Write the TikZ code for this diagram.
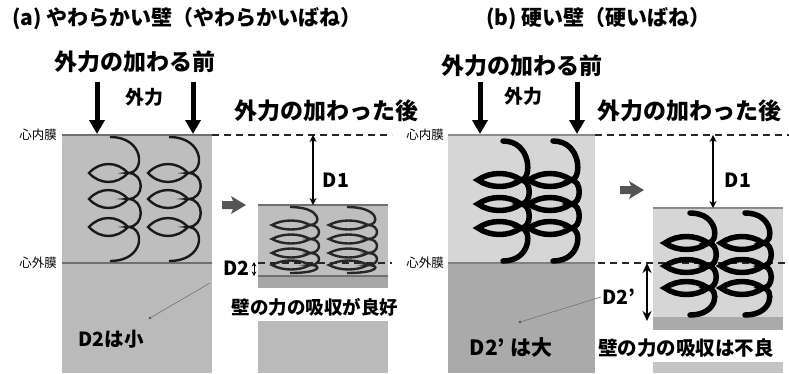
\documentclass[tikz,border=0pt]{standalone}
\usepackage{fontspec}
\setmainfont{Noto Sans CJK JP}
\usetikzlibrary{arrows.meta}

\definecolor{wallsoft}{HTML}{BEBEBE}
\definecolor{wallsoftlow}{HTML}{BABABA}
\definecolor{wallhard}{HTML}{D6D6D6}
\definecolor{wallhardlow}{HTML}{AAAAAA}
\definecolor{membrane}{HTML}{707070}
\definecolor{pusharrow}{HTML}{555555}

% one coil spring: lens loops on the left, bulging arcs on the right
% #1 style, #2 end x, #3 lens left x, #4 lens right x, #5 arc control x,
% #6 top y, #7 bottom y, #8 lens centres, #9 lens half height
\newcommand{\coilspring}[9]{%
  \foreach \yy in {#8} {\xdef\lastlens{\yy}}
  \foreach \yy in {#8} {
    \draw[#1] (#3,\yy)
      .. controls ({#3+0.28*(#4-#3)},{\yy-1.33*#9}) and ({#4-0.28*(#4-#3)},{\yy-1.33*#9}) .. (#4,\yy)
      .. controls ({#4-0.28*(#4-#3)},{\yy+1.33*#9}) and ({#3+0.28*(#4-#3)},{\yy+1.33*#9}) .. cycle;
  }
  \draw[#1] (#2,#6)
    \foreach \yy [remember=\yy as \py (initially #6)] in {#8} {
      .. controls (#5,\py) and (#5,\yy) .. (#4,\yy)
    }
    .. controls (#5,\lastlens) and (#5,#7) .. (#2,#7);
}

\begin{document}
\begin{tikzpicture}[x=1pt,y=-1pt,
  title/.style={font=\bfseries\fontsize{21}{24}\selectfont, inner sep=0pt, anchor=west},
  heading/.style={font=\bfseries\fontsize{23}{26}\selectfont, inner sep=0pt, anchor=west},
  forcelabel/.style={font=\bfseries\fontsize{19}{22}\selectfont, inner sep=0pt},
  layer/.style={font=\fontsize{12.5}{14}\selectfont, inner sep=0pt, anchor=east},
  note/.style={font=\bfseries\fontsize{19.5}{22}\selectfont, inner sep=1pt},
  force/.style={line width=5pt, -{Triangle[width=15pt,length=14pt]}},
  gap/.style={line width=1.5pt, {Stealth[width=7pt,length=7pt]}-{Stealth[width=7pt,length=7pt]}},
  gapbig/.style={line width=2.2pt, {Stealth[width=9pt,length=10pt]}-{Stealth[width=9pt,length=10pt]}},
  level/.style={line width=1.5pt, dash pattern=on 7pt off 5pt, black!85},
  memline/.style={line width=2.5pt, membrane},
  softcoil/.style={line width=2.4pt, black!90},
  softflat/.style={line width=2.4pt, black!85},
  hardcoil/.style={line width=5.5pt, black, line cap=round},
  leader/.style={line width=0.6pt, black!55}
]
\useasboundingbox (0,0) rectangle (789,373);

% ---------------- (a) soft wall ----------------
\node[title] (ta) at (12,19) {(a) やわらかい壁（やわらかいばね）};
\node[heading] (prea) at (54,62) {外力の加わる前};
\node[forcelabel] (fa) at (144,97) {外力};
\node[heading] (posta) at (234,111) {外力の加わった後};

% wall before loading
\fill[wallsoft] (62,135) rectangle (212,263);
\fill[wallsoftlow] (62,263) rectangle (212,373);
\draw[memline] (62,135) -- (212,135);
\draw[memline] (62,263) -- (212,263);
\node[layer] (endoa) at (57,135) {心内膜};
\node[layer] (epia) at (57,263) {心外膜};

% wall after loading
\fill[wallsoft] (258,205) rectangle (388,276);
\fill[wallsoftlow!90!black] (258,276) rectangle (388,288);
\fill[wallsoftlow] (258,321) rectangle (388,373);
\draw[memline] (258,205) -- (388,205);
\draw[memline] (258,276) -- (388,276);

% reference levels
\draw[level] (212,135) -- (392,135);
\draw[level] (258,263) -- (392,263);

% springs
\coilspring{softcoil}{110}{89}{128}{145}{137}{261}{173,199,227}{9}
\coilspring{softcoil}{169}{148}{188}{205}{137}{261}{173,199,227}{9}
\coilspring{softflat}{290}{272}{310}{322}{207}{273}{225,239,253,265}{4.5}
\coilspring{softflat}{347}{329}{368}{380}{207}{273}{225,239,253,265}{4.5}

% external force
\coordinate (fa1s) at (97,82); \coordinate (fa1e) at (97,134);
\coordinate (fa2s) at (193,82); \coordinate (fa2e) at (193,134);
\draw[force] (fa1s) -- (fa1e);
\draw[force] (fa2s) -- (fa2e);

% displacement
\coordinate (d1at) at (313,135); \coordinate (d1ab) at (313,205);
\draw[gap] (d1at) -- (d1ab);
\node[note] (d1a) at (336,180) {D1};
\coordinate (d2at) at (254,262); \coordinate (d2ab) at (254,276);
\draw[line width=1pt, {Stealth[width=4.5pt,length=4.5pt]}-{Stealth[width=4.5pt,length=4.5pt]}] (d2at) -- (d2ab);
\node[note, anchor=east] (d2a) at (251,268) {D2};

% step arrow
\fill[pusharrow] (222,201) -- (233,201) -- (231,196) -- (246,205) -- (231,214) -- (233,209) -- (222,209) -- cycle;

\node[note, font=\bfseries\fontsize{18.5}{21}\selectfont] (gooda) at (315,307) {壁の力の吸収が良好};
\node[note] (smalla) at (111,339) {D2は小};
\fill[black!70] (150,318) circle (1.3pt) coordinate (dota);
\coordinate (tipa) at (210,283);
\draw[leader] (dota) -- (tipa);

% ---------------- (b) stiff wall ----------------
\node[title] (tb) at (486,19) {(b) 硬い壁（硬いばね）};
\node[heading] (preb) at (441,66) {外力の加わる前};
\node[forcelabel] (fb) at (523,96) {外力};
\node[heading] (postb) at (597,111) {外力の加わった後};

% wall before loading
\fill[wallhard] (448,135) rectangle (595,263);
\fill[wallhardlow] (448,263) rectangle (595,373);
\draw[memline, black!45] (448,135) -- (595,135);
\draw[memline, black!50] (448,263) -- (595,263);
\node[layer] (endob) at (444,135) {心内膜};
\node[layer] (epib) at (444,263) {心外膜};

% wall after loading
\fill[wallhard] (653,208) rectangle (783,317);
\fill[wallhardlow] (653,317) rectangle (783,330);
\fill[wallhardlow!70!white] (653,362) rectangle (783,373);
\draw[memline, black!45] (653,208) -- (783,208);

% reference levels
\draw[level] (595,135) -- (789,135);
\draw[level] (598,263) -- (789,263);

% springs
\coilspring{hardcoil}{503}{478}{521}{532}{141}{261}{180,204,228}{6.5}
\coilspring{hardcoil}{553}{529}{571}{582}{141}{261}{180,204,228}{6.5}
\coilspring{hardcoil}{690}{665}{708}{719}{213}{315}{243,266,288}{6.5}
\coilspring{hardcoil}{745}{721}{763}{774}{213}{315}{243,266,288}{6.5}

% external force
\coordinate (fb1s) at (480,82); \coordinate (fb1e) at (480,134);
\coordinate (fb2s) at (577,82); \coordinate (fb2e) at (577,134);
\draw[force] (fb1s) -- (fb1e);
\draw[force] (fb2s) -- (fb2e);

% displacement
\coordinate (d1bt) at (713,135); \coordinate (d1bb) at (713,208);
\draw[gap] (d1bt) -- (d1bb);
\node[note] (d1b) at (738,180) {D1};
\coordinate (d2bt) at (647,263); \coordinate (d2bb) at (647,321);
\draw[gapbig] (d2bt) -- (d2bb);
\node[note, anchor=west] (d2b) at (601,297) {D2'};

% step arrow
\fill[pusharrow] (620,186) -- (631,186) -- (629,181) -- (644,190) -- (629,199) -- (631,194) -- (620,194) -- cycle;

\node[note, fill=white, inner sep=3pt] (poorb) at (686,348) {壁の力の吸収は不良};
\node[note, font=\bfseries\fontsize{21}{24}\selectfont] (largeb) at (511,347) {D2' は大};
\fill[black!70] (520,322) circle (1.3pt) coordinate (dotb);
\draw[leader] (dotb) -- (d2b.west);
\end{tikzpicture}
\end{document}
